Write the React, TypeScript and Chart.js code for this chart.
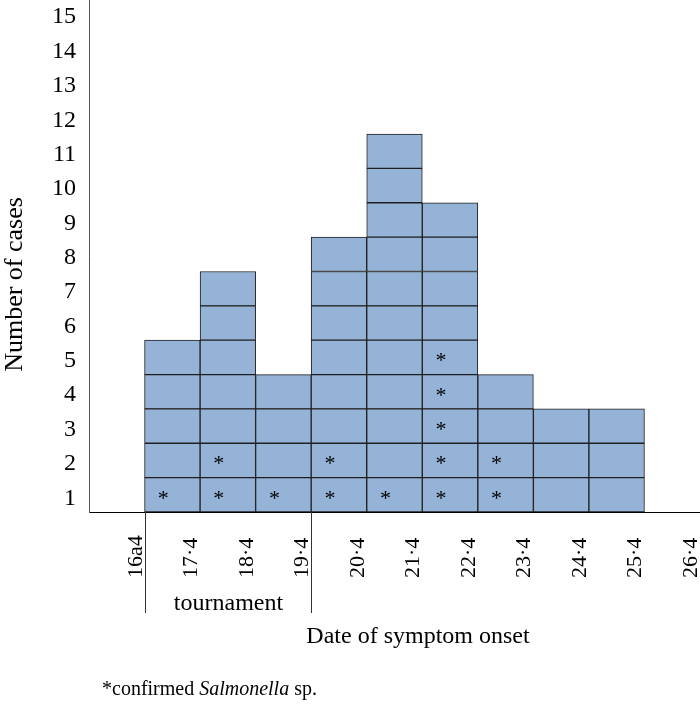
import React, { useEffect, useRef } from "react";
import { Chart, registerables } from "chart.js";

Chart.register(...registerables);

const DATES = ["16a4", "17·4", "18·4", "19·4", "20·4", "21·4", "22·4", "23·4", "24·4", "25·4", "26·4"];
const CASES = [0, 5, 7, 4, 8, 11, 9, 4, 3, 3, 0];
const CONFIRMED = [0, 1, 2, 1, 2, 1, 5, 2, 0, 0, 0];
const Y_TICKS = [1, 2, 3, 4, 5, 6, 7, 8, 9, 10, 11, 12, 13, 14, 15];
const TOURNAMENT_FIRST = "17·4";
const TOURNAMENT_LAST = "19·4";
const Y_TITLE = "Number of cases";
const X_TITLE = "Date of symptom onset";
const BRACKET_LABEL = "tournament";

const SERIF = "'Liberation Serif', 'Times New Roman', serif";
const FILL = "#95b3d7";
const EDGE = "#1f1f1f";

const overlay = {
  id: "overlay",
  afterDraw(chart: any) {
    const { ctx, chartArea } = chart;
    const xs = chart.scales.x;
    const ys = chart.scales.y;
    const half = (xs.getPixelForValue(1) - xs.getPixelForValue(0)) / 2;
    ctx.save();
    ctx.fillStyle = "#000";

    // asterisks marking confirmed cases
    ctx.font = `22px ${SERIF}`;
    ctx.textAlign = "center";
    ctx.textBaseline = "alphabetic";
    const m = ctx.measureText("*");
    const vOff = (m.actualBoundingBoxAscent - m.actualBoundingBoxDescent) / 2;
    CONFIRMED.forEach((n, i) => {
      for (let r = 0; r < n; r++) {
        const cx = xs.getPixelForValue(i) - 9;
        const cy = (ys.getPixelForValue(r) + ys.getPixelForValue(r + 1)) / 2;
        ctx.fillText("*", cx, cy + vOff);
      }
    });

    // x tick labels (rotated, reading upward)
    ctx.font = `22px ${SERIF}`;
    ctx.textAlign = "left";
    ctx.textBaseline = "alphabetic";
    DATES.forEach((d, i) => {
      const x = xs.getPixelForValue(i) + half - 3;
      ctx.save();
      ctx.translate(x, chartArea.bottom + 66);
      ctx.rotate(-Math.PI / 2);
      ctx.fillText(d, 0, 0);
      ctx.restore();
    });

    // tournament bracket
    const i0 = DATES.indexOf(TOURNAMENT_FIRST);
    const i1 = DATES.indexOf(TOURNAMENT_LAST);
    const xl = Math.round(xs.getPixelForValue(i0) - half) + 0.5;
    const xr = Math.round(xs.getPixelForValue(i1) + half) + 0.5;
    ctx.strokeStyle = "#333";
    ctx.lineWidth = 1;
    ctx.beginPath();
    ctx.moveTo(xl, chartArea.bottom);
    ctx.lineTo(xl, chartArea.bottom + 101);
    ctx.moveTo(xr, chartArea.bottom);
    ctx.lineTo(xr, chartArea.bottom + 101);
    ctx.stroke();
    ctx.font = `24px ${SERIF}`;
    ctx.textAlign = "center";
    ctx.fillText(BRACKET_LABEL, (xl + xr) / 2, chartArea.bottom + 98);

    // x title
    ctx.fillText(X_TITLE, 418, chartArea.bottom + 131);

    // y title
    ctx.save();
    ctx.font = `26px ${SERIF}`;
    ctx.translate(22, 284.5);
    ctx.rotate(-Math.PI / 2);
    ctx.textAlign = "center";
    ctx.textBaseline = "alphabetic";
    ctx.fillText(Y_TITLE, 0, 0);
    ctx.restore();

    // footnote
    ctx.textAlign = "left";
    ctx.font = `20px ${SERIF}`;
    let fx = 102;
    const fy = 695;
    const p1 = "*confirmed ";
    ctx.fillText(p1, fx, fy);
    fx += ctx.measureText(p1).width;
    ctx.font = `italic 20px ${SERIF}`;
    const p2 = "Salmonella";
    ctx.fillText(p2, fx, fy);
    fx += ctx.measureText(p2).width;
    ctx.font = `20px ${SERIF}`;
    ctx.fillText(" sp.", fx, fy);
    ctx.restore();
  },
};

export default function App() {
  const ref = useRef<HTMLCanvasElement>(null);
  useEffect(() => {
    document.body.style.margin = "0";
    const maxRows = Math.max(...CASES);
    const datasets = [];
    for (let r = 1; r <= maxRows; r++) {
      datasets.push({
        label: `row ${r}`,
        data: CASES.map((c) => (c >= r ? 1 : null)),
        backgroundColor: FILL,
        borderColor: EDGE,
        borderWidth: 1,
        borderSkipped: false,
        barPercentage: 1,
        categoryPercentage: 1,
      });
    }
    const chart = new Chart(ref.current!, {
      type: "bar",
      data: { labels: DATES, datasets },
      options: {
        animation: false,
        responsive: false,
        layout: { padding: 0 },
        plugins: { legend: { display: false }, tooltip: { enabled: false } },
        scales: {
          x: {
            stacked: true,
            grid: { display: false, drawTicks: false },
            border: { display: true, color: "#000", width: 1 },
            ticks: { display: false },
            afterFit: (s: any) => {
              s.height = 202;
              s.paddingLeft = 0;
              s.paddingRight = 0;
            },
          },
          y: {
            stacked: true,
            min: 0,
            max: 14.9,
            grid: { display: false, drawTicks: false },
            border: { display: true, color: "#555", width: 1 },
            ticks: {
              color: "#000",
              font: { family: SERIF, size: 24 },
              padding: 13,
              autoSkip: false,
              callback: (_v: any, i: number) => String(Y_TICKS[i]),
            },
            afterBuildTicks: (s: any) => {
              s.ticks = Y_TICKS.map((k) => ({ value: k - 0.6 }));
            },
            afterFit: (s: any) => {
              s.width = 89;
              s.paddingTop = 0;
              s.paddingBottom = 0;
            },
          },
        },
      },
      plugins: [overlay],
    });
    return () => chart.destroy();
  }, []);
  return (
    <div style={{ width: 700, height: 714 }}>
      <canvas ref={ref} width={700} height={714} style={{ display: "block" }} />
    </div>
  );
}
